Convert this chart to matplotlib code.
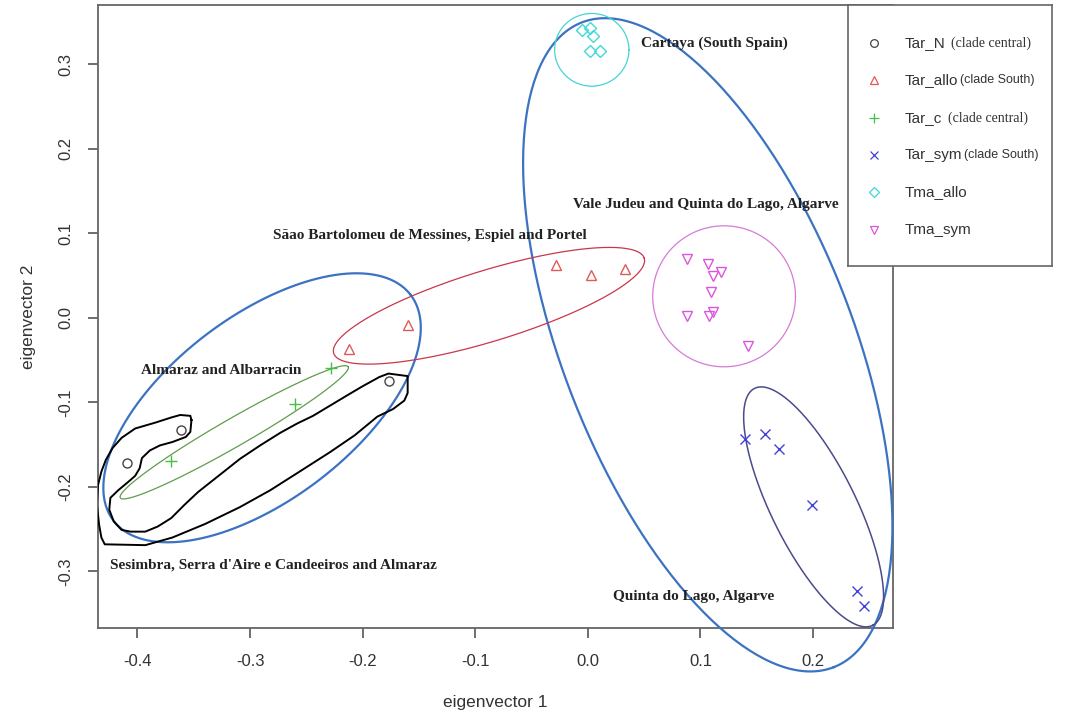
import numpy as np
import matplotlib.pyplot as plt

# PCA scores (eigenvector 1, eigenvector 2)
tar_n_x = [-0.409, -0.361, -0.177]
tar_n_y = [-0.172, -0.133, -0.075]
tar_allo_x = [-0.212, -0.160, -0.028, 0.003, 0.033]
tar_allo_y = [-0.037, -0.008, 0.062, 0.051, 0.058]
tar_c_x = [-0.370, -0.260, -0.228]
tar_c_y = [-0.170, -0.102, -0.059]
tar_sym_x = [0.140, 0.157, 0.170, 0.199, 0.239, 0.245]
tar_sym_y = [-0.144, -0.137, -0.155, -0.221, -0.323, -0.341]
tma_allo_x = [-0.005, 0.002, 0.005, 0.002, 0.011]
tma_allo_y = [0.341, 0.343, 0.333, 0.315, 0.316]
tma_sym_x = [0.088, 0.107, 0.111, 0.118, 0.109, 0.088, 0.108, 0.111, 0.142]
tma_sym_y = [0.069, 0.064, 0.050, 0.054, 0.031, 0.002, 0.002, 0.007, -0.033]

groups = ["Tar_N", "Tar_allo", "Tar_c", "Tar_sym", "Tma_allo", "Tma_sym"]
clades = ["(clade central)", "(clade South)", "(clade central)", "(clade South)", "", ""]
xs = [tar_n_x, tar_allo_x, tar_c_x, tar_sym_x, tma_allo_x, tma_sym_x]
ys = [tar_n_y, tar_allo_y, tar_c_y, tar_sym_y, tma_allo_y, tma_sym_y]

# hand drawn outline around the northern samples
contour_x = [-0.352, -0.353, -0.362, -0.370, -0.384, -0.402, -0.414, -0.422, -0.428,
             -0.432, -0.435, -0.436, -0.434, -0.432, -0.429, -0.393, -0.369, -0.340,
             -0.309, -0.282, -0.256, -0.229, -0.207, -0.187, -0.173, -0.163, -0.160,
             -0.160, -0.177, -0.185, -0.200, -0.214, -0.229, -0.244, -0.258, -0.273,
             -0.291, -0.309, -0.327, -0.346, -0.358, -0.370, -0.382, -0.393, -0.406,
             -0.414, -0.421, -0.425, -0.424, -0.417, -0.408, -0.402, -0.398, -0.396,
             -0.389, -0.380, -0.369, -0.357, -0.353, -0.352]
contour_y = [-0.121, -0.116, -0.115, -0.118, -0.124, -0.131, -0.142, -0.154, -0.168,
             -0.182, -0.198, -0.221, -0.245, -0.260, -0.268, -0.269, -0.260, -0.244,
             -0.224, -0.204, -0.182, -0.159, -0.139, -0.117, -0.108, -0.098, -0.089,
             -0.069, -0.066, -0.070, -0.081, -0.092, -0.104, -0.116, -0.125, -0.136,
             -0.151, -0.167, -0.186, -0.206, -0.221, -0.237, -0.247, -0.253, -0.253,
             -0.251, -0.241, -0.227, -0.213, -0.204, -0.194, -0.187, -0.178, -0.166,
             -0.157, -0.151, -0.147, -0.141, -0.135, -0.121]

# ellipses: centre, half axis u, half axis v (data units), colour, width
ellipses = [
    ((0.1065, -0.032), (0.1120, -0.3813), (-0.1198, -0.0626), "#3b73c2", 1.6),
    ((-0.2893, -0.1065), (0.1321, 0.1333), (0.0492, -0.0869), "#3b73c2", 1.6),
    ((0.2005, -0.2237), (0.0524, -0.1402), (-0.0334, -0.0222), "#4b4b8c", 1.1),
    ((-0.314, -0.1355), (0.1012, 0.0775), (0.0062, -0.0143), "#5f9c4c", 0.9),
    ((-0.0878, 0.0142), (0.1379, 0.0562), (0.0092, -0.0401), "#c8374a", 0.9),
    ((0.0035, 0.317), (0.033, 0.0), (0.0, 0.043), "#45d4d4", 0.9),
    ((0.121, 0.0254), (0.0634, 0.0), (0.0, 0.0834), "#d77ad7", 0.9),
]

regions = ["Cartaya (South Spain)",
           "Vale Judeu and Quinta do Lago, Algarve",
           "Sãao Bartolomeu de Messines, Espiel and Portel",
           "Almaraz and Albarracin",
           "Sesimbra, Serra d'Aire e Candeeiros and Almaraz",
           "Quinta do Lago, Algarve"]
region_pos = [(0.047, 0.325), (-0.013, 0.134), (-0.280, 0.097),
              (-0.397, -0.062), (-0.424, -0.292), (0.022, -0.330)]

styles = [
    dict(marker="o", color="#444444", ms=6.5),
    dict(marker="^", color="#e05a5a", ms=7),
    dict(marker="+", color="#44c044", ms=8),
    dict(marker="x", color="#4242d8", ms=6.5),
    dict(marker="D", color="#40d8d8", ms=6),
    dict(marker="v", color="#dd55dd", ms=7),
]

fig = plt.figure(figsize=(10.65, 7.16), dpi=100)
ax = fig.add_axes([98 / 1065, 88 / 716, 795 / 1065, 623 / 716])

for x, y, st in zip(xs, ys, styles):
    ax.plot(x, y, ls="none", marker=st["marker"], ms=st["ms"], mfc="none",
            mec=st["color"], mew=1.0, zorder=4)

t = np.linspace(0, 2 * np.pi, 300)
for (cx, cy), (ux, uy), (vx, vy), col, lw in ellipses:
    ax.plot(cx + ux * np.cos(t) + vx * np.sin(t),
            cy + uy * np.cos(t) + vy * np.sin(t),
            color=col, lw=lw, clip_on=False, zorder=3)

ax.plot(contour_x, contour_y, color="black", lw=1.4, zorder=3)

for s, (px, py) in zip(regions, region_pos):
    ax.text(px, py, s, family="Liberation Serif", fontweight="bold",
            fontsize=11, ha="left", va="center", color="#222222", zorder=5)

ax.set_xlim(-0.435, 0.271)
ax.set_ylim(-0.367, 0.370)
ax.set_xticks([-0.4, -0.3, -0.2, -0.1, 0.0, 0.1, 0.2])
ax.set_yticks([-0.3, -0.2, -0.1, 0.0, 0.1, 0.2, 0.3])
ax.set_xticklabels(["-0.4", "-0.3", "-0.2", "-0.1", "0.0", "0.1", "0.2"])
ax.set_yticklabels(["-0.3", "-0.2", "-0.1", "0.0", "0.1", "0.2", "0.3"])
ax.tick_params(direction="out", length=7, width=1.2, color="#555555",
               labelsize=12, labelcolor="#333333")
ax.tick_params(axis="x", pad=12)
ax.tick_params(axis="y", pad=11, labelrotation=90)
for lab in ax.get_yticklabels():
    lab.set_verticalalignment("center")
for lab in ax.get_xticklabels() + ax.get_yticklabels():
    lab.set_family("Liberation Sans")
for sp in ax.spines.values():
    sp.set_color("#666666")
    sp.set_linewidth(1.3)

ax.set_xlabel("eigenvector 1", fontsize=12.5, color="#333333",
              family="Liberation Sans", va="center")
ax.xaxis.set_label_coords(0.5, -0.120)
ax.set_ylabel("eigenvector 2", fontsize=12.5, color="#333333",
              family="Liberation Sans", va="center")
ax.yaxis.set_label_coords(-0.088, 0.5)

# legend box, drawn by hand so the clade notes can use another font
lax = fig.add_axes([848 / 1065, 1 - 266 / 716, 204 / 1065, 261 / 716])
lax.set_zorder(5)
lax.set_xlim(0, 1)
lax.set_ylim(0, 1)
lax.set_xticks([])
lax.set_yticks([])
for sp in lax.spines.values():
    sp.set_color("#666666")
    sp.set_linewidth(1.2)
for i, (name, clade, st) in enumerate(zip(groups, clades, styles)):
    yy = 0.854 - i * 0.143
    lax.plot([0.127], [yy], ls="none", marker=st["marker"], ms=st["ms"] * 0.85,
             mfc="none", mec=st["color"], mew=0.9)
    txt = lax.text(0.279, yy, name, fontsize=11, va="center",
                   family="Liberation Sans", color="#333333")
    if clade:
        if "South" in clade:
            lax.annotate(clade, xy=(1, 0), xycoords=txt, xytext=(1, 1),
                         textcoords="offset points", fontsize=9,
                         family="Liberation Sans", color="#333333",
                         ha="left", va="bottom")
        else:
            lax.annotate(clade, xy=(1, 0), xycoords=txt, xytext=(4, 0),
                         textcoords="offset points", fontsize=10,
                         family="Liberation Serif", color="#333333",
                         ha="left", va="bottom")

fig.savefig("out.png", dpi=100)
